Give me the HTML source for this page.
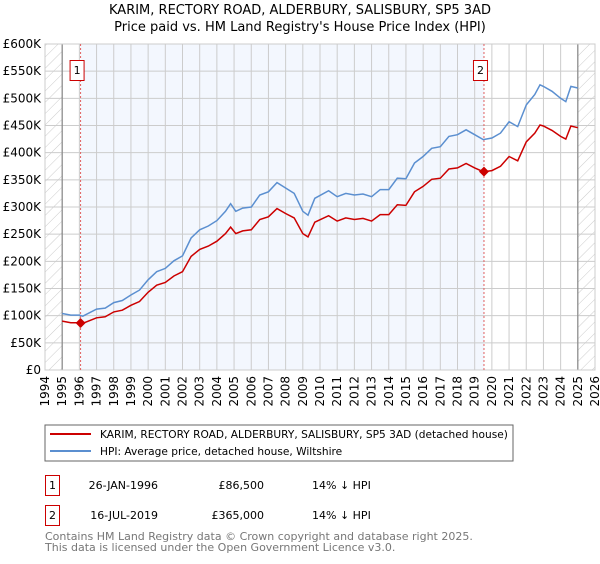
<!DOCTYPE html>
<html><head><meta charset="utf-8"><style>
body{margin:0;background:#fff;font-family:"DejaVu Sans","Liberation Sans",sans-serif;}
svg text{font-family:"DejaVu Sans","Liberation Sans",sans-serif;}
</style></head><body>
<svg width="600" height="560" viewBox="0 0 600 560" xmlns="http://www.w3.org/2000/svg">
<defs>
<pattern id="hatch" patternUnits="userSpaceOnUse" width="8" height="8" patternTransform="rotate(45)">
<line x1="0" y1="0" x2="0" y2="8" stroke="#cccccc" stroke-width="1"/>
</pattern>
</defs>
<text x="300" y="14" text-anchor="middle" font-size="13" fill="#000">KARIM, RECTORY ROAD, ALDERBURY, SALISBURY, SP5 3AD</text>
<text x="300" y="31" text-anchor="middle" font-size="13" fill="#000">Price paid vs. HM Land Registry's House Price Index (HPI)</text>
<g id="plot"></g>
<rect x="45" y="425" width="468" height="36" fill="#fff" stroke="#666"/>
<line x1="50" y1="434" x2="91" y2="434" stroke="#cc0000" stroke-width="2"/>
<text x="100" y="438" font-size="10.6">KARIM, RECTORY ROAD, ALDERBURY, SALISBURY, SP5 3AD (detached house)</text>
<line x1="50" y1="451" x2="91" y2="451" stroke="#5b8fd0" stroke-width="2"/>
<text x="100" y="455" font-size="10.6">HPI: Average price, detached house, Wiltshire</text>
<rect x="45.5" y="475.5" width="14" height="20" fill="#fff" stroke="#cc0000"/>
<text x="52.5" y="489" text-anchor="middle" font-size="11">1</text>
<text x="158" y="489" text-anchor="end" font-size="11">26-JAN-1996</text>
<text x="264" y="489" text-anchor="end" font-size="11">£86,500</text>
<text x="312" y="489" font-size="11">14% ↓ HPI</text>
<rect x="45.5" y="505.5" width="14" height="20" fill="#fff" stroke="#cc0000"/>
<text x="52.5" y="519" text-anchor="middle" font-size="11">2</text>
<text x="158" y="519" text-anchor="end" font-size="11">16-JUL-2019</text>
<text x="264" y="519" text-anchor="end" font-size="11">£365,000</text>
<text x="312" y="519" font-size="11">14% ↓ HPI</text>
<text x="45" y="540" font-size="11" fill="#777">Contains HM Land Registry data © Crown copyright and database right 2025.</text>
<text x="45" y="551" font-size="11" fill="#777">This data is licensed under the Open Government Licence v3.0.</text>
</svg>
<script>
const hpiYears=[1995,1995.5,1996,1996.2,1997,1997.5,1998,1998.5,1999,1999.5,2000,2000.5,2001,2001.5,2002,2002.5,2003,2003.5,2004,2004.5,2004.8,2005.1,2005.5,2006,2006.5,2007,2007.5,2008,2008.5,2009,2009.3,2009.7,2010.5,2011,2011.5,2012,2012.5,2013,2013.5,2014,2014.5,2015,2015.5,2016,2016.5,2017,2017.5,2018,2018.5,2019,2019.5,2020,2020.5,2021,2021.5,2022,2022.5,2022.8,2023,2023.5,2024,2024.3,2024.6,2025];
const hpiValues=[104,101,101,99,112,114,124,128,138,147,166,181,187,201,210,243,258,265,275,292,306,292,298,300,322,328,345,335,325,292,285,316,330,319,325,322,324,319,332,332,353,352,381,393,408,411,430,433,442,433,424,427,436,457,448,488,507,525,522,513,500,494,522,519];
const priceValues=[90,87,87,86,96,98,107,110,119,126,143,156,161,173,181,209,222,228,237,251,263,251,256,258,277,282,297,288,280,251,245,272,284,274,280,277,279,274,286,286,304,303,328,338,351,353,370,372,380,372,365,367,375,393,385,420,436,451,449,441,430,425,449,446];
const yTicks=[0,50,100,150,200,250,300,350,400,450,500,550,600];
const yTickLabels=["£0","£50K","£100K","£150K","£200K","£250K","£300K","£350K","£400K","£450K","£500K","£550K","£600K"];
const xTicks=[1994,1995,1996,1997,1998,1999,2000,2001,2002,2003,2004,2005,2006,2007,2008,2009,2010,2011,2012,2013,2014,2015,2016,2017,2018,2019,2020,2021,2022,2023,2024,2025,2026];
const saleYears=[1996.07,2019.54];
const salePrices=[86.5,365];
const saleLabels=["1","2"];

const X0=45,X1=595,Y0=370,Y1=44;
const xs=y=>X0+(y-1994)/(2026-1994)*(X1-X0);
const ys=v=>Y0-v/600*(Y0-Y1);
const NS="http://www.w3.org/2000/svg";
const g=document.getElementById('plot');
function mk(t,a){const e=document.createElementNS(NS,t);for(const k in a)e.setAttribute(k,a[k]);g.appendChild(e);return e;}

let e;
e=mk('rect',{x:X0,y:Y1,width:X1-X0,height:Y0-Y1,fill:'#fff'});


e=mk('rect',{x:xs(saleYears[0]),y:Y1,width:xs(saleYears[1])-xs(saleYears[0]),height:Y0-Y1,fill:'#f3f7fe'});


e=mk('rect',{x:X0,y:Y1,width:xs(1995)-X0,height:Y0-Y1,fill:'url(#hatch)'});


e=mk('rect',{x:xs(2025),y:Y1,width:X1-xs(2025),height:Y0-Y1,fill:'url(#hatch)'});



yTicks.forEach((t,i)=>{
  e=mk('line',{x1:X0,x2:X1,y1:ys(t),y2:ys(t),stroke:'#cccccc','stroke-width':1});
  
  
  e=mk('text',{x:X0-4,y:ys(t)+4,'text-anchor':'end','font-size':12,fill:'#000'});
  e.textContent=yTickLabels[i];
  
  
});
xTicks.forEach(t=>{
  e=mk('line',{x1:xs(t),x2:xs(t),y1:Y1,y2:Y0,stroke:'#cccccc','stroke-width':1});
  
  
  e=mk('text',{x:xs(t)+4,y:Y0+6,'text-anchor':'end','font-size':12,fill:'#000',transform:`rotate(-90 ${xs(t)+4} ${Y0+6})`});
  e.textContent=t;
  
  
});
[1995,2025].forEach(t=>{
  e=mk('line',{x1:xs(t),x2:xs(t),y1:Y1,y2:Y0,stroke:'#888','stroke-width':1.2});
  
  
});
e=mk('rect',{x:X0,y:Y1,width:X1-X0,height:Y0-Y1,fill:'none',stroke:'#cccccc'});



saleYears.forEach((s,i)=>{
  e=mk('line',{x1:xs(s),x2:xs(s),y1:Y1,y2:Y0,stroke:'#e06060','stroke-width':1,'stroke-dasharray':'2,2'});
  
  
});

const pts=(v)=>hpiYears.map((y,i)=>xs(y).toFixed(1)+','+ys(v[i]).toFixed(1)).join(' ');
e=mk('polyline',{points:pts(hpiValues),fill:'none',stroke:'#5b8fd0','stroke-width':1.5});


e=mk('polyline',{points:pts(priceValues),fill:'none',stroke:'#cc0000','stroke-width':1.5});



saleYears.forEach((s,i)=>{
  const cx=xs(s),cy=ys(salePrices[i]);
  e=mk('polygon',{points:`${cx},${cy-5} ${cx+5},${cy} ${cx},${cy+5} ${cx-5},${cy}`,fill:'#cc0000'});
  
  
  e=mk('rect',{x:cx-10.5,y:60.5,width:14,height:20,fill:'#fff',stroke:'#cc0000'});
  
  
  e=mk('text',{x:cx-3.5,y:74,'text-anchor':'middle','font-size':11,fill:'#000'});
  e.textContent=saleLabels[i];
  
  
});
</script>
</body></html>
